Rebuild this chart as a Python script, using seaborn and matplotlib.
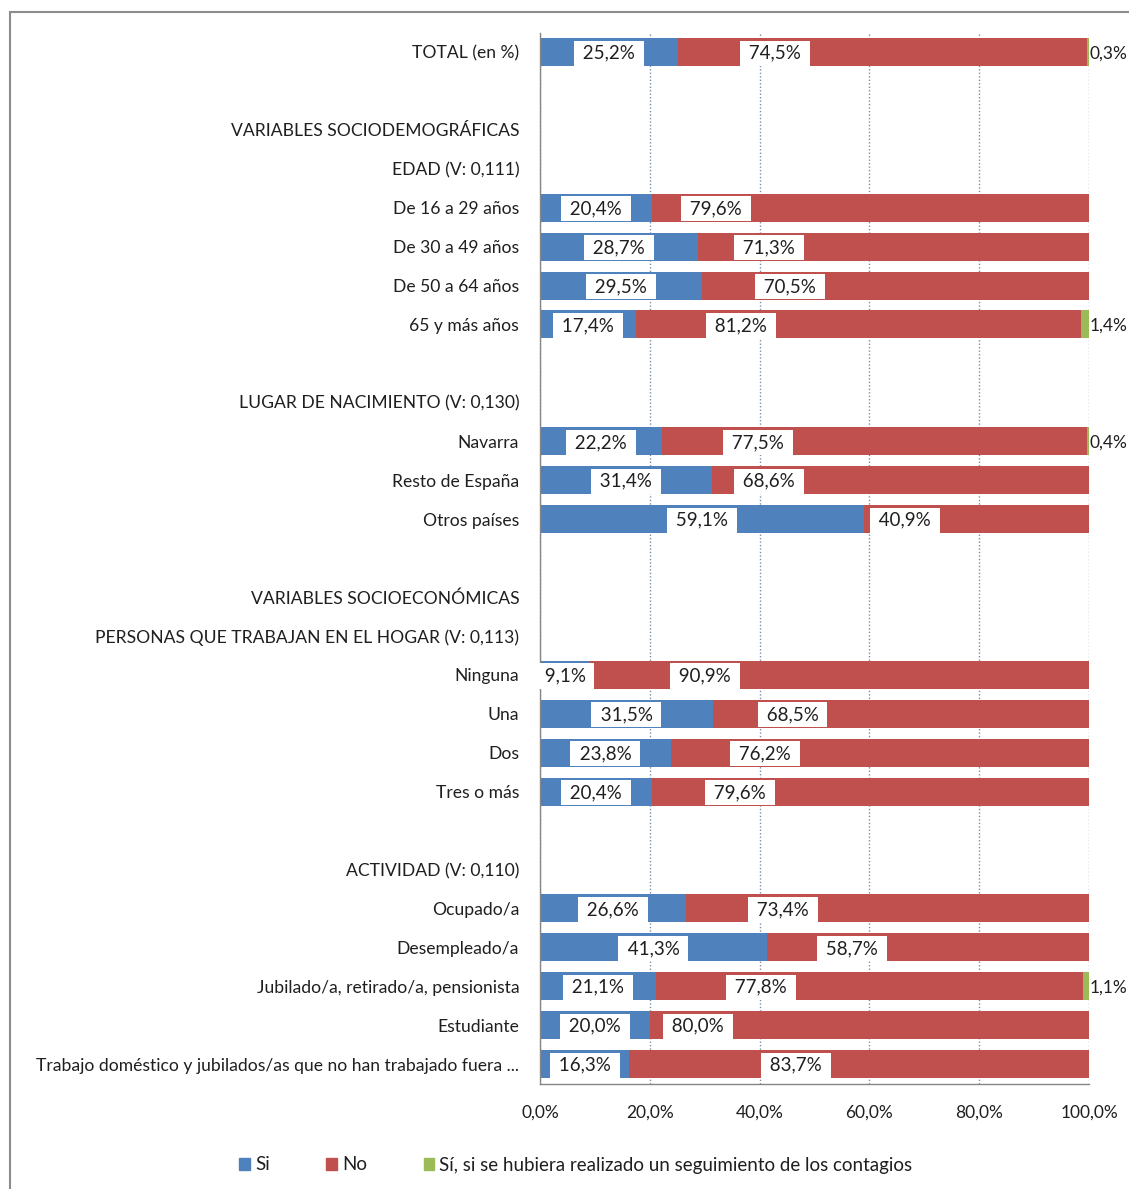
"""
Stacked 100% bar chart: Si / No / Sí si se hubiera realizado seguimiento
"""
import numpy as np
import pandas as pd
import matplotlib
matplotlib.use("Agg")
import matplotlib.pyplot as plt
from matplotlib.patches import Rectangle, Patch
import seaborn as sns

# Row labels (empty string = spacer row)
rows = [
    "TOTAL (en %)", "", "VARIABLES SOCIODEMOGRÁFICAS", "EDAD (V: 0,111)",
    "De 16 a 29 años", "De 30 a 49 años", "De 50 a 64 años", "65 y más años", "",
    "LUGAR DE NACIMIENTO (V: 0,130)", "Navarra", "Resto de España", "Otros países", "",
    "VARIABLES SOCIOECONÓMICAS", "PERSONAS QUE TRABAJAN EN EL HOGAR (V: 0,113)",
    "Ninguna", "Una", "Dos", "Tres o más", "",
    "ACTIVIDAD (V: 0,110)", "Ocupado/a", "Desempleado/a",
    "Jubilado/a, retirado/a, pensionista", "Estudiante",
    "Trabajo doméstico y jubilados/as que no han trabajado fuera ...",
]
nan = np.nan
si = [25.2, nan, nan, nan, 20.4, 28.7, 29.5, 17.4, nan,
      nan, 22.2, 31.4, 59.1, nan,
      nan, nan, 9.1, 31.5, 23.8, 20.4, nan,
      nan, 26.6, 41.3, 21.1, 20.0, 16.3]
no = [74.5, nan, nan, nan, 79.6, 71.3, 70.5, 81.2, nan,
      nan, 77.5, 68.6, 40.9, nan,
      nan, nan, 90.9, 68.5, 76.2, 79.6, nan,
      nan, 73.4, 58.7, 77.8, 80.0, 83.7]
seguimiento = [0.3, nan, nan, nan, 0.0, 0.0, 0.0, 1.4, nan,
               nan, 0.4, 0.0, 0.0, nan,
               nan, nan, 0.0, 0.0, 0.0, 0.0, nan,
               nan, 0.0, 0.0, 1.1, 0.0, 0.0]
# where the "No" data labels sit (in % axis units)
no_label_x = [42.8, nan, nan, nan, 32.1, 41.7, 45.5, 36.6, nan,
              nan, 39.7, 41.7, 66.5, nan,
              nan, nan, 30.0, 46.0, 41.0, 36.4, nan,
              nan, 44.3, 56.8, 40.3, 28.8, 46.6]

C_SI, C_NO, C_SEG = "#4F81BD", "#C0504D", "#9BBB59"
TXT = "#1f1f1f"

df = pd.DataFrame({"row": [f"r{i}" for i in range(len(rows))],
                   "si": si, "no": no, "seg": seguimiento})
df["cum_no"] = df["si"] + df["no"]
df["cum_seg"] = df["cum_no"] + df["seg"]
order = list(df["row"])

sns.set_style("white")
plt.rcParams["font.family"] = ["Lato", "DejaVu Sans"]

fig = plt.figure(figsize=(11.29, 11.89), dpi=100)
W, H = 1129, 1189
ax = fig.add_axes([540 / W, 1 - 1083.5 / H, 549 / W, (1083.5 - 32.5) / H])

bw = 0.72
for col, color in [("cum_seg", C_SEG), ("cum_no", C_NO), ("si", C_SI)]:
    sns.barplot(data=df, x=col, y="row", order=order, orient="h",
                color=color, width=bw, linewidth=0, saturation=1,
                errorbar=None, ax=ax)

ax.set_xlim(0, 100)
ax.set_ylim(len(rows) - 0.5, -0.5)
ax.set_xlabel("")
ax.set_ylabel("")

# gridlines
ax.set_xticks([0, 20, 40, 60, 80, 100])
ax.set_xticklabels([f"{v:.1f}%".replace(".", ",") for v in range(0, 101, 20)],
                   fontsize=12.5, color=TXT)
ax.xaxis.grid(True, linestyle=(0, (1, 1.5)), color="#7a8fa8", linewidth=1)
ax.set_axisbelow(True)
ax.tick_params(axis="x", length=4, width=1, color="#868686", pad=13,
               direction="inout")

ax.set_yticks(range(len(rows)))
ax.set_yticklabels(rows, fontsize=12.6, color=TXT)
ax.set_yticks(np.arange(-0.5, len(rows), 1.0), minor=True)
ax.tick_params(axis="y", which="major", length=0, pad=15)
ax.tick_params(axis="y", which="minor", length=5, width=1, color="#868686",
               direction="out")

for side in ["top", "right"]:
    ax.spines[side].set_visible(False)
for side in ["left", "bottom"]:
    ax.spines[side].set_color("#868686")
    ax.spines[side].set_linewidth(1)

fmt = lambda v: f"{v:.1f}%".replace(".", ",")
box = dict(boxstyle="square,pad=0.22", fc="white", ec="none")
dy = 0.03
for i in range(len(rows)):
    if np.isnan(si[i]):
        continue
    ax.text(si[i] / 2, i + dy, f" {fmt(si[i])} ", ha="center", va="center",
            fontsize=13.5, color=TXT, bbox=box)
    ax.text(no_label_x[i], i + dy, f" {fmt(no[i])} ", ha="center", va="center",
            fontsize=13.5, color=TXT, bbox=box)
    if seguimiento[i] > 0:
        ax.text(100.1, i + dy, fmt(seguimiento[i]), ha="left", va="center",
                fontsize=12.5, color=TXT, clip_on=False)

# legend
handles = [Patch(color=C_SI, label="Si"), Patch(color=C_NO, label="No"),
           Patch(color=C_SEG,
                 label="Sí, si se hubiera realizado un seguimiento de los contagios")]
fig.legend(handles=handles, loc="center", bbox_to_anchor=(576 / W, 1 - 1165 / H),
           ncol=3, frameon=False, fontsize=13.5, handlelength=0.55,
           handleheight=0.55, handletextpad=0.3, columnspacing=3.0,
           labelcolor=TXT)

# outer chart frame
fig.patches.append(Rectangle((9.5 / W, -0.01), 1.2, 1 - 11.5 / H + 0.01,
                             transform=fig.transFigure, fill=False,
                             ec="#8c8c8c", lw=1.5))

fig.savefig("out.png", dpi=100)
